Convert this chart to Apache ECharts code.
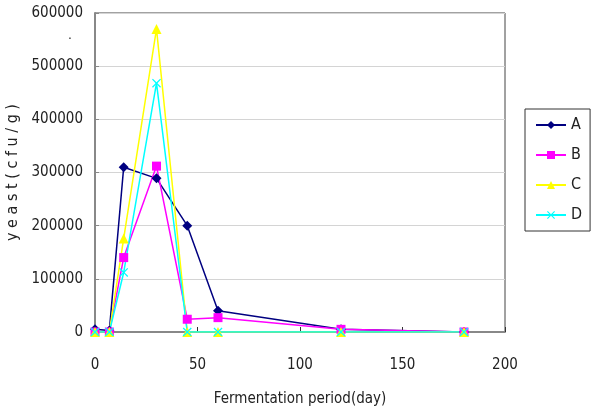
<!DOCTYPE html>
<html lang="en">
<head>
    <meta charset="UTF-8">
    <title>yeast</title>
    <style>
        body, html { margin: 0; padding: 0; width: 100%; height: 100%; background: #fff; }
        #container { width: 593px; height: 414px; }
    </style>
    <script src="https://cdn.jsdelivr.net/npm/echarts@6/dist/echarts.min.js"></script>
</head>
<body>
<div id="container"></div>
<script type="text/javascript">
    // fermentation days and yeast counts (cfu/g)
    var days = [0, 7, 14, 30, 45, 60, 120, 180];
    var seriesA = [5000, 3000, 310000, 289000, 200000, 40000, 5000, 0];
    var seriesB = [0, 0, 140000, 312000, 24000, 27000, 5000, 0];
    var seriesC = [0, 0, 176000, 570000, 0, 0, 0, 0];
    var seriesD = [0, 0, 112000, 468000, 0, 0, 0, 0];
    var names = ['A', 'B', 'C', 'D'];

    var font = "'Liberation Sans Narrow', 'DejaVu Sans Condensed', sans-serif";
    var xShape = 'path://M0,1L1,0L5,4L9,0L10,1L6,5L10,9L9,10L5,6L1,10L0,9L4,5Z';

    function pairs(vals) {
        return days.map(function (d, i) { return [d, vals[i]]; });
    }

    function makeSeries(name, vals, color, symbol, size) {
        return {
            name: name, type: 'line', data: pairs(vals),
            symbol: symbol, symbolSize: size,
            lineStyle: {color: color, width: 1.5},
            itemStyle: {color: color},
            emphasis: {disabled: true}
        };
    }

    var myChart = echarts.init(document.getElementById('container'));
    var option = {
        animation: false,
        textStyle: {fontFamily: font},
        grid: {left: 95, right: 88, top: 13, bottom: 82, outerBoundsMode: 'none', containLabel: false,
            show: true, borderColor: '#444', borderWidth: 1},
        legend: {
            orient: 'vertical', left: 525, top: 109,
            data: names,
            itemWidth: 30, itemHeight: 10, itemGap: 14,
            padding: [8, 8, 8, 10],
            borderColor: '#333', borderWidth: 1,
            textStyle: {fontFamily: font, fontSize: 16, color: '#222'}
        },
        xAxis: {
            type: 'value', min: 0, max: 200, interval: 50,
            name: 'Fermentation period(day)', nameLocation: 'middle', nameGap: 60,
            nameTextStyle: {fontFamily: font, fontSize: 15, color: '#222'},
            axisLine: {lineStyle: {color: '#888', width: 2}},
            axisTick: {inside: true, length: 5, lineStyle: {color: '#333'}},
            axisLabel: {fontFamily: font, fontSize: 15, color: '#222', margin: 26},
            splitLine: {show: false}
        },
        yAxis: {
            type: 'value', min: 0, max: 600000, interval: 100000,
            name: 'y e a s t ( c f u / g )', nameLocation: 'middle', nameGap: 68, nameRotate: 90,
            nameTextStyle: {fontFamily: font, fontSize: 16, color: '#222'},
            axisLine: {show: true, lineStyle: {color: '#888', width: 2}},
            axisTick: {show: true, inside: true, length: 4, lineStyle: {color: '#888'}},
            axisLabel: {fontFamily: font, fontSize: 15, color: '#222', margin: 12,
                formatter: function (v) { return String(v); }},
            splitLine: {lineStyle: {color: '#d4d4d4', width: 1}}
        },
        graphic: [{type: 'text', left: 68, top: 28, style: {text: '.', fontSize: 14, fill: '#333'}}],
        series: [
            makeSeries('A', seriesA, '#000080', 'diamond', 10),
            makeSeries('B', seriesB, '#ff00ff', 'rect', 9),
            makeSeries('C', seriesC, '#ffff00', 'triangle', 10),
            makeSeries('D', seriesD, '#00ffff', xShape, 9)
        ]
    };
    myChart.setOption(option);
</script>
</body>
</html>
